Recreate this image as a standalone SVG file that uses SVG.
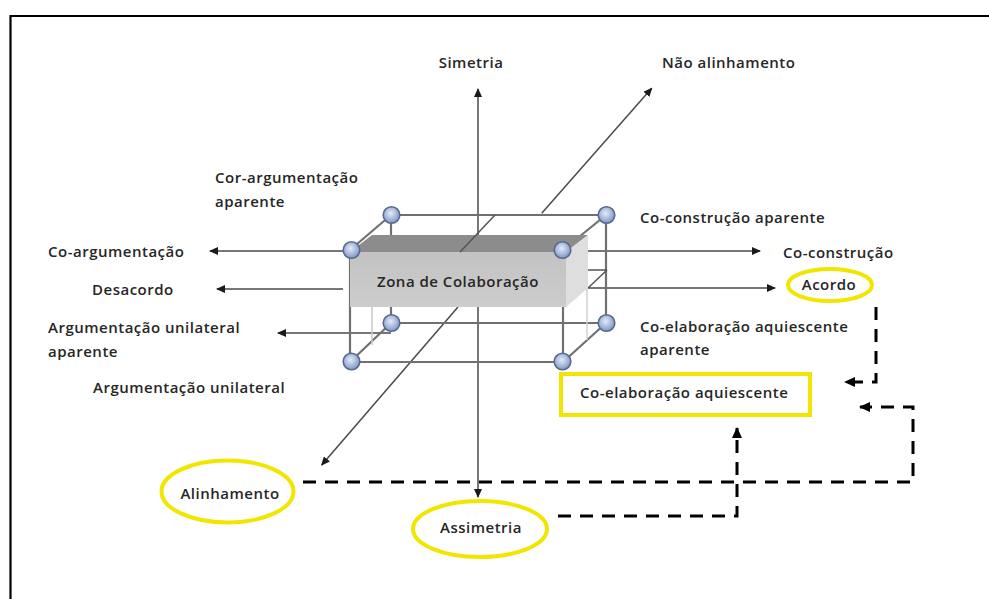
<svg xmlns="http://www.w3.org/2000/svg" width="989" height="599" viewBox="0 0 989 599">
<style>
  .t{font-family:"Open Sans","Liberation Sans",sans-serif;font-weight:600;font-size:15px;letter-spacing:0.5px;fill:#262626}
  .ax{stroke:#4a4a4a;stroke-width:1.5;fill:none}
  .edge{stroke:#707070;stroke-width:2.2;fill:none}
  .dash{stroke:#000;stroke-width:3;stroke-dasharray:13 9;fill:none}
  .yel{stroke:#f2e600;stroke-width:4;fill:none}
  .node{fill:url(#ng);stroke:#56698f;stroke-width:1.6}
</style>
<defs>
  <marker id="ah" markerUnits="userSpaceOnUse" markerWidth="9" markerHeight="8" refX="8" refY="4" orient="auto-start-reverse">
    <path d="M0,0 L9,4 L0,8 z" fill="#1a1a1a"/>
  </marker>
  <marker id="dh" markerUnits="userSpaceOnUse" markerWidth="11" markerHeight="10" refX="10" refY="5" orient="auto">
    <path d="M0,0 L11,5 L0,10 z" fill="#000"/>
  </marker>
  <radialGradient id="ng" cx="0.45" cy="0.4" r="0.6">
    <stop offset="0" stop-color="#e2ebfa"/>
    <stop offset="1" stop-color="#7f96c6"/>
  </radialGradient>
  <linearGradient id="fg" x1="0" y1="0" x2="0" y2="1">
    <stop offset="0" stop-color="#c2c2c2"/>
    <stop offset="1" stop-color="#cdcdcd"/>
  </linearGradient>
</defs>
<rect x="0" y="0" width="989" height="599" fill="#fff"/>
<path d="M10.5,599 V16 H989" stroke="#000" stroke-width="2.2" fill="none"/>

<g id="connectors">
  <line class="ax" x1="478" y1="89" x2="478" y2="497" marker-start="url(#ah)" marker-end="url(#ah)"/>
  <line class="ax" x1="541.7" y1="213.3" x2="651.7" y2="88.3" marker-end="url(#ah)"/>
  <line class="ax" x1="458" y1="307" x2="321.7" y2="465" marker-end="url(#ah)"/>
  <line class="ax" x1="350" y1="251" x2="210" y2="251" marker-end="url(#ah)"/>
  <line class="ax" x1="563" y1="251" x2="760" y2="251" marker-end="url(#ah)"/>
  <line class="ax" x1="343" y1="289" x2="217" y2="289" marker-end="url(#ah)"/>
  <line class="ax" x1="588" y1="288" x2="775" y2="288" marker-end="url(#ah)"/>
  <line class="ax" x1="391" y1="333" x2="278" y2="333" marker-end="url(#ah)"/>
  <path class="dash" d="M876,307 V382 H845" marker-end="url(#dh)"/>
  <path class="dash" d="M303,482 H913 V407 H860" marker-end="url(#dh)"/>
  <path class="dash" d="M558,516 H737 V428" marker-end="url(#dh)"/>
</g>

<g id="cubo">
  <line class="edge" x1="391" y1="215" x2="606" y2="215"/>
  <line class="edge" x1="391" y1="215" x2="350" y2="250"/>
  <line class="edge" x1="606" y1="215" x2="563" y2="250"/>
  <line class="edge" x1="391" y1="215" x2="391" y2="240"/>
  <line class="edge" x1="606" y1="215" x2="606" y2="323"/>
  <line class="edge" x1="391" y1="300" x2="391" y2="323"/>
  <line class="edge" x1="391" y1="323" x2="606" y2="323"/>
  <line class="edge" x1="350" y1="250" x2="350" y2="362"/>
  <line class="edge" x1="563" y1="250" x2="563" y2="362"/>
  <line class="edge" x1="350" y1="362" x2="563" y2="362"/>
  <line class="edge" x1="391" y1="323" x2="350" y2="362"/>
  <line class="edge" x1="606" y1="323" x2="563" y2="362"/>
  <line x1="372" y1="307" x2="372" y2="345" stroke="#c8c8c8" stroke-width="1.5"/>
  <line x1="587" y1="288" x2="587" y2="340" stroke="#d0d0d0" stroke-width="1.5"/>
  <line x1="588" y1="270" x2="607" y2="270" stroke="#555" stroke-width="1.5"/>
  <line x1="588" y1="288" x2="607" y2="270" stroke="#555" stroke-width="1.5"/>
  <polygon points="350,252 372,235 588,235 566,252" fill="#8c8c8c"/>
  <polygon points="566,252 588,235 588,288 566,307" fill="#dedede"/>
  <rect x="350" y="252" width="216" height="55" fill="url(#fg)"/>
  <line x1="495" y1="215" x2="460" y2="252" stroke="#555" stroke-width="1.5"/>
  <circle class="node" cx="391.5" cy="215" r="8.3"/>
  <circle class="node" cx="606.5" cy="215" r="8.3"/>
  <circle class="node" cx="351.5" cy="250" r="8.3"/>
  <circle class="node" cx="562.5" cy="250" r="8.3"/>
  <circle class="node" cx="391.5" cy="323" r="8.3"/>
  <circle class="node" cx="606.5" cy="323" r="8.3"/>
  <circle class="node" cx="351.5" cy="361.5" r="8.3"/>
  <circle class="node" cx="562.5" cy="361.5" r="8.3"/>
  <text class="t" x="458" y="287" text-anchor="middle">Zona de Colaboração</text>
</g>

<g id="simetria"><text class="t" x="471" y="68" text-anchor="middle">Simetria</text></g>
<g id="nao-alinhamento"><text class="t" x="662" y="68">Não alinhamento</text></g>
<g id="cor-argumentacao-aparente">
  <text class="t" x="215" y="183">Cor-argumentação</text>
  <text class="t" x="215" y="207">aparente</text>
</g>
<g id="co-construcao-aparente"><text class="t" x="640" y="223">Co-construção aparente</text></g>
<g id="co-argumentacao"><text class="t" x="48" y="257">Co-argumentação</text></g>
<g id="co-construcao"><text class="t" x="783" y="258">Co-construção</text></g>
<g id="desacordo"><text class="t" x="92" y="295">Desacordo</text></g>
<g id="acordo">
  <ellipse class="yel" cx="830" cy="285" rx="42" ry="16"/>
  <text class="t" x="829" y="290" text-anchor="middle">Acordo</text>
</g>
<g id="argumentacao-unilateral-aparente">
  <text class="t" x="48" y="333">Argumentação unilateral</text>
  <text class="t" x="48" y="357">aparente</text>
</g>
<g id="co-elaboracao-aquiescente-aparente">
  <text class="t" x="640" y="332">Co-elaboração aquiescente</text>
  <text class="t" x="640" y="355">aparente</text>
</g>
<g id="argumentacao-unilateral"><text class="t" x="93" y="393">Argumentação unilateral</text></g>
<g id="co-elaboracao-aquiescente">
  <rect class="yel" x="561" y="374" width="249" height="41"/>
  <text class="t" x="580" y="398">Co-elaboração aquiescente</text>
</g>
<g id="alinhamento">
  <ellipse class="yel" cx="227.5" cy="491.5" rx="66" ry="31"/>
  <text class="t" x="230" y="499" text-anchor="middle">Alinhamento</text>
</g>
<g id="assimetria">
  <ellipse class="yel" cx="480" cy="529" rx="67" ry="28"/>
  <text class="t" x="481" y="533" text-anchor="middle">Assimetria</text>
</g>
</svg>
